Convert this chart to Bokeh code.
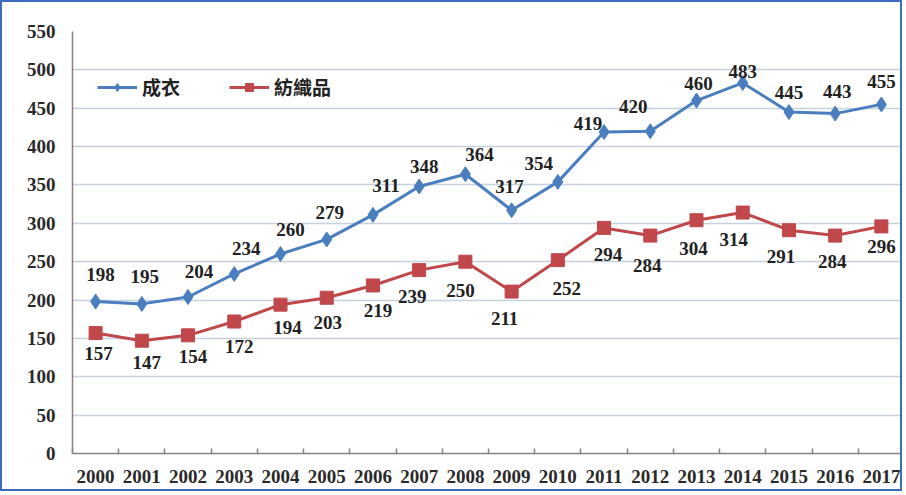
from bokeh.plotting import figure
from bokeh.models import ColumnDataSource, LabelSet, FixedTicker, Legend, LegendItem, Range1d
from bokeh.embed import file_html
from bokeh.resources import INLINE

years = list(range(2000, 2018))
clothing = [198, 195, 204, 234, 260, 279, 311, 348, 364, 317, 354, 419, 420, 460, 483, 445, 443, 455]
textiles = [157, 147, 154, 172, 194, 203, 219, 239, 250, 211, 252, 294, 284, 304, 314, 291, 284, 296]
series_names = ["成衣", "紡織品"]
y_ticks = list(range(0, 551, 50))

# label pixel offsets (styling)
blue_dx = [5, 3, 11, 12, 10, 3, 13, 5, 14, -2, -19, -16, -17, 2, 0, 0, 2, 0]
blue_dy = [27, 27, 25, 25, 25, 27, 29, 20, 20, 24, 18, 9, 25, 17, 11, 20, 22, 23]
red_dx = [3, 5, 5, 5, 7, 1, 5, -7, -5, -7, 9, 4, -3, -3, -9, -8, -3, 0]
red_dy = [-20, -22, -21, -25, -23, -25, -25, -26, -29, -27, -28, -27, -30, -28, -27, -26, -26, -20]

BLUE = "#4a7ebf"
RED = "#c0474a"

p = figure(width=902, height=491, output_backend="svg", toolbar_location=None,
           x_range=Range1d(years[0] - 0.5, years[-1] + 0.5),
           y_range=Range1d(0, 550),
           min_border_left=70, min_border_right=0, min_border_top=29, min_border_bottom=40)
p.styles = {"border": "2px solid #3b6cc0"}
p.background_fill_color = "white"
p.border_fill_color = "white"
p.outline_line_color = None

p.xgrid.grid_line_color = None
p.ygrid.grid_line_color = "#c6d1df"
p.ygrid.grid_line_width = 1.5
p.yaxis.ticker = FixedTicker(ticks=y_ticks)
p.xaxis.ticker = FixedTicker(ticks=years, minor_ticks=[y - 0.5 for y in years] + [years[-1] + 0.5])

for ax in (p.xaxis[0], p.yaxis[0]):
    ax.axis_line_color = "#8a8080"
    ax.axis_line_width = 1.5
    ax.major_tick_out = 0
    ax.major_tick_in = 0
    ax.minor_tick_out = 0
    ax.major_label_text_font = "Liberation Serif"
    ax.major_label_text_font_style = "bold"
    ax.major_label_text_font_size = "19px"
    ax.major_label_text_color = "#2a2a2a"
p.yaxis.minor_tick_in = 0
p.yaxis.major_label_standoff = 17
p.xaxis.minor_tick_in = 5
p.xaxis.minor_tick_line_color = "#8a8080"
p.xaxis.minor_tick_line_width = 1.5
p.xaxis.major_label_standoff = 16

src_b = ColumnDataSource(dict(x=years, y=clothing, t=[str(v) for v in clothing], dx=blue_dx, dy=blue_dy))
src_r = ColumnDataSource(dict(x=years, y=textiles, t=[str(v) for v in textiles], dx=red_dx, dy=red_dy))

lb = p.line("x", "y", source=src_b, line_color=BLUE, line_width=3)
sb = p.scatter("x", "y", source=src_b, marker="diamond", size=15, fill_color=BLUE, line_color=BLUE)
lr = p.line("x", "y", source=src_r, line_color=RED, line_width=3)
sr = p.scatter("x", "y", source=src_r, marker="square", size=13, fill_color=RED, line_color=RED)

for src in (src_b, src_r):
    p.add_layout(LabelSet(x="x", y="y", text="t", source=src, x_offset="dx", y_offset="dy",
                          text_align="center", text_baseline="middle",
                          text_font="Liberation Serif", text_font_style="bold",
                          text_font_size="19px", text_color="#222222"))

legend = Legend(items=[LegendItem(label=series_names[0], renderers=[lb, sb]),
                       LegendItem(label=series_names[1], renderers=[lr, sr])],
                orientation="horizontal", location=(25, 353),
                glyph_width=40, glyph_height=20, label_height=20, label_standoff=5,
                spacing=49, padding=0, margin=0,
                label_text_font="Noto Sans CJK TC", label_text_font_style="bold",
                label_text_font_size="19px", label_text_color="#222222",
                background_fill_alpha=0, border_line_color=None)
p.add_layout(legend)

open("out.html", "w").write(file_html(p, INLINE))
